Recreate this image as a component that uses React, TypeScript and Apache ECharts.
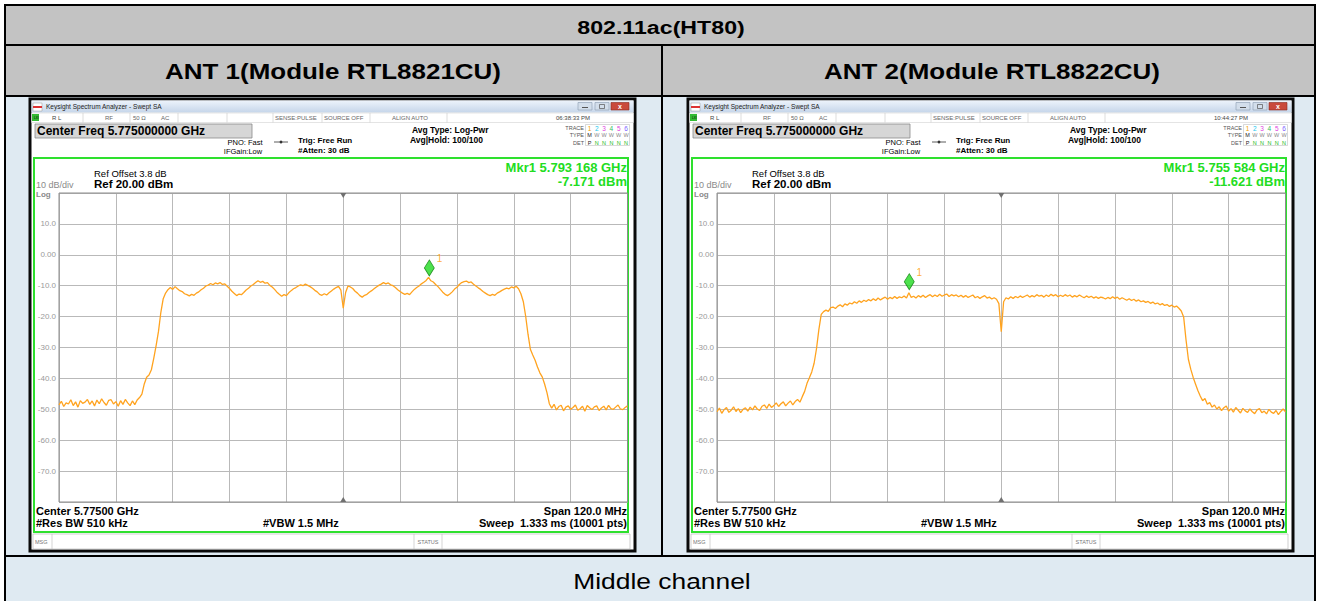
import React, { useEffect, useRef } from "react";
import * as echarts from "echarts";

// ---------- data ----------
const TABLE_TITLE = "802.11ac(HT80)";
const PANEL_TITLES = ["ANT 1(Module RTL8821CU)", "ANT 2(Module RTL8822CU)"];
const FOOTER = "Middle channel";

const CENTER_FREQ_TEXT = "Center Freq 5.775000000 GHz";
const CLOCKS = ["06:38:33 PM", "10:44:27 PM"];
const MARKER_FREQ_TEXT = ["Mkr1 5.793 168 GHz", "Mkr1 5.755 584 GHz"];
const MARKER_LEVEL_TEXT = ["-7.171 dBm", "-11.621 dBm"];
// marker position, MHz from centre (5.775 GHz) and dBm
const MARKER_MHZ = [18.168, -19.416];
const MARKER_DBM = [-7.171, -11.621];

// sweep: -60 MHz .. +60 MHz around 5.775 GHz, one reading every 0.5 MHz
const X_MIN = -60;
const X_MAX = 60;
const X_STEP = 12;
const SWEEP_STEP_MHZ = 0.5;
const Y_MIN = -80;
const Y_MAX = 20;
const Y_STEP = 10;
const Y_TICK_VALUES = [10, 0, -10, -20, -30, -40, -50, -60, -70];
const Y_TICK_LABELS = ["10.0", "0.00", "-10.0", "-20.0", "-30.0", "-40.0", "-50.0", "-60.0", "-70.0"];

const ANT1_DBM = [
  -48.6, -47.4, -49.1, -47.9, -48.3, -46.9, -48.8, -47.6, -49.3, -47.2,
  -48.1, -47.7, -46.8, -48.4, -47.3, -48.9, -47.0, -48.2, -46.6, -47.8,
  -48.7, -47.1, -46.9, -48.3, -47.5, -49.0, -47.2, -48.4, -46.8, -47.9,
  -48.8, -47.3, -48.5, -47.0, -46.2,
  -45.1, -41.8, -39.6, -38.9, -37.2, -33.5, -29.4, -24.8, -18.6, -14.2, -12.4, -11.3, -10.6,
  -11.2, -10.3, -11.0, -11.6, -11.9, -12.6, -12.9, -13.3, -12.8, -13.1,
  -12.4, -12.0, -11.3, -10.8, -10.1, -9.8, -9.3, -9.7, -9.1, -9.4,
  -9.0, -9.6, -9.4, -10.2, -10.9, -11.8, -12.5, -13.2, -12.7, -12.9,
  -12.2, -11.4, -10.8, -10.1, -9.6, -9.0, -8.4, -8.9, -8.6, -9.2,
  -9.0, -9.9, -10.4, -11.2, -12.1, -12.8, -13.4, -12.9, -13.2, -12.3,
  -11.6, -11.0, -10.6, -10.1, -9.7, -10.0, -9.5, -9.9, -10.3, -10.8,
  -11.5, -12.0, -12.8, -13.1, -12.6, -13.0, -12.3, -11.7, -11.1, -10.6,
  -10.2, -11.4,
  -17.3, -12.2, -10.1, -10.4, -10.9, -11.8, -12.4, -13.2, -13.7, -13.1,
  -12.8, -12.1, -11.6, -11.0, -10.4, -9.9, -9.5, -9.0, -9.4, -9.1,
  -9.7, -10.0, -10.6, -11.3, -11.9, -12.4, -12.8, -12.5, -12.9, -12.0,
  -11.2, -10.6, -10.1, -9.4, -8.9, -8.3, -7.3, -8.4, -8.8, -9.6,
  -10.3, -11.2, -12.1, -12.8, -13.2, -12.7, -12.0, -11.1, -10.5, -9.6,
  -9.0, -8.7, -8.5, -9.0, -8.8, -9.5, -10.1, -10.7, -11.2, -11.9,
  -12.4, -12.9, -13.2, -12.8, -13.1, -12.4, -12.0, -11.5, -11.1, -10.8,
  -11.0, -10.4, -10.7, -10.2, -11.0, -12.6, -15.1, -19.8, -25.7, -30.6,
  -32.4, -34.1, -36.3, -38.2, -39.5, -41.8, -44.6, -48.2,
  -49.6, -48.4, -50.2, -49.1, -48.7, -50.5, -49.3, -48.9, -50.0, -49.4,
  -48.6, -50.3, -49.8, -49.0, -50.6, -48.8, -49.5, -50.1, -49.2, -48.9,
  -50.4, -49.6, -49.0, -50.2, -48.7, -49.8, -50.0, -49.3, -48.6, -49.9,
  -50.1, -49.4, -48.9,
];

const ANT2_DBM = [
  -50.8, -49.6, -51.3, -50.1, -49.4, -51.0, -50.3, -49.2, -50.7, -49.8,
  -51.1, -50.0, -49.5, -50.6, -49.3, -50.2, -48.9, -49.9, -50.4, -49.0,
  -48.6, -49.7, -48.3, -49.4, -48.8, -47.9, -49.1, -48.2, -47.6, -48.9,
  -48.0, -47.3, -48.6, -47.5, -46.8, -47.7, -45.9,
  -44.2, -41.6, -39.8, -37.9, -35.1, -30.4, -24.2, -19.3,
  -18.4, -17.9, -18.3, -17.1, -16.9, -17.4, -16.6, -16.2, -16.8, -15.9,
  -16.3, -15.6, -15.9, -15.2, -15.7, -14.9, -15.4, -14.7, -15.1, -14.5,
  -14.9, -14.2, -14.8, -14.0, -14.6, -14.1, -13.7, -14.4, -13.8, -14.2,
  -13.5, -14.1, -13.6, -13.9, -13.3, -14.0, -12.3, -13.8, -13.4, -14.0,
  -13.2, -13.7, -13.1, -13.8, -13.3, -12.9, -13.6, -13.0, -13.5, -12.8,
  -13.4, -13.0, -12.7, -13.5, -12.9, -13.3, -13.0, -13.6, -13.1, -13.7,
  -13.2, -13.8, -13.4, -13.0, -13.9, -13.5, -14.1, -13.6, -13.2, -14.0,
  -13.7, -14.3, -13.9, -14.4, -15.8,
  -24.9, -15.2, -13.9, -14.3, -13.6, -14.1, -13.5, -13.9, -13.3, -13.8,
  -13.4, -13.0, -13.7, -13.2, -13.6, -12.9, -13.4, -13.1, -13.7, -13.0,
  -13.5, -12.8, -13.3, -12.9, -13.6, -13.1, -13.5, -12.9, -13.4, -13.0,
  -13.7, -13.2, -13.6, -13.0, -13.5, -13.9, -13.3, -13.8, -13.4, -14.0,
  -13.6, -14.1, -13.7, -13.9, -14.3, -13.8, -14.2, -13.6, -14.1, -13.7,
  -14.4, -13.9, -14.3, -14.7, -14.2, -14.8, -14.4, -15.0, -14.6, -15.2,
  -14.9, -15.4, -15.1, -15.7, -15.3, -15.9, -15.6, -16.2, -15.8, -16.4,
  -16.1, -16.7, -16.3, -16.9, -16.6, -17.3, -18.2, -20.1, -27.5, -33.8,
  -37.0, -39.6, -41.8, -43.9, -45.7, -47.2, -46.5, -48.4, -47.8, -49.3,
  -48.6, -49.9, -49.2, -50.4, -49.5, -48.9, -50.6, -49.8, -50.9, -49.4,
  -50.3, -51.2, -49.7, -50.5, -51.0, -49.9, -50.8, -51.4, -50.2, -49.8,
  -51.1, -50.6, -51.5, -50.0, -50.9, -51.3, -50.4, -51.7, -50.7, -49.9,
  -50.8,
];

const TRACES = [ANT1_DBM, ANT2_DBM];

// ---------- layout / style ----------
const FONT = "'Liberation Sans', Arial, Helvetica, sans-serif";
const SCREEN_DX = 658;
const PLOT = { left: 59, top: 193, width: 568.5, height: 309 };
const TRACE_COLOR = "#ffa31f";
const MKR_GREEN = "#22dd22";
const DIGIT_COLORS = ["#f5a000", "#18c8f0", "#e040e0", "#30c060", "#e040e0", "#8060ff"];

function buildTable(): any[] {
  const out: any[] = [];
  const blk = "#000";
  out.push({ type: "rect", silent: true, z: 0, shape: { x: 4, y: 5, width: 1312, height: 600 }, style: { fill: "#dfeaf2" } });
  out.push({ type: "rect", silent: true, z: 0, shape: { x: 4, y: 5, width: 1312, height: 91 }, style: { fill: "#c3c3c3" } });
  const ln = (x1: number, y1: number, x2: number, y2: number) =>
    out.push({ type: "line", silent: true, z: 1, shape: { x1, y1, x2, y2 }, style: { stroke: blk, lineWidth: 2 } });
  ln(5, 5, 5, 605);
  ln(1315, 5, 1315, 605);
  ln(4, 5, 1316, 5);
  ln(4, 45, 1316, 45);
  ln(4, 96, 1316, 96);
  ln(4, 556, 1316, 556);
  ln(662, 45, 662, 556);
  const txt = (x: number, y: number, t: string, size: number, bold: boolean, sx: number) =>
    out.push({
      type: "text", silent: true, z: 2, x, y, scaleX: sx,
      style: { text: t, fill: "#000", fontSize: size, fontWeight: bold ? "bold" : "normal", fontFamily: FONT, align: "center", verticalAlign: "middle" },
    });
  txt(661, 27, TABLE_TITLE, 19, true, 1.22);
  txt(333, 71, PANEL_TITLES[0], 22, true, 1.18);
  txt(992, 71, PANEL_TITLES[1], 22, true, 1.18);
  txt(662, 581, FOOTER, 22, false, 1.2);
  return out;
}

function buildScreen(k: number): any[] {
  const dx = k * SCREEN_DX;
  const out: any[] = [];
  const rect = (x: number, y: number, w: number, h: number, style: any, z = 1) =>
    out.push({ type: "rect", silent: true, z, shape: { x: x + dx, y, width: w, height: h }, style });
  const line = (x1: number, y1: number, x2: number, y2: number, stroke: string, lw = 1, z = 1) =>
    out.push({ type: "line", silent: true, z, shape: { x1: x1 + dx, y1, x2: x2 + dx, y2 }, style: { stroke, lineWidth: lw } });
  const text = (x: number, y: number, t: string, o: any = {}) =>
    out.push({
      type: "text", silent: true, z: o.z ?? 2, x: x + dx, y,
      style: {
        text: t, fill: o.color ?? "#000", fontSize: o.size ?? 8, fontWeight: o.bold ? "bold" : "normal",
        fontFamily: FONT, align: o.align ?? "left", verticalAlign: "middle",
      },
    });

  // window frame
  rect(30, 99, 605, 452, { fill: "#ffffff", stroke: "#0a0a0a", lineWidth: 3 }, 0);
  // title bar
  rect(31.5, 100.5, 602, 12, {
    fill: new echarts.graphic.LinearGradient(0, 0, 0, 1, [
      { offset: 0, color: "#edf3fb" },
      { offset: 1, color: "#c6d6ea" },
    ]),
  });
  rect(33, 103, 9, 8, { fill: "#ffffff", stroke: "#999", lineWidth: 0.5 });
  rect(33, 106, 9, 2, { fill: "#d33" });
  text(46, 106.5, "Keysight Spectrum Analyzer - Swept SA", { size: 6.5, color: "#222" });
  rect(578, 102.5, 14, 7.5, { fill: "#d3deeb", stroke: "#8a9bb0", lineWidth: 0.6 });
  rect(595, 102.5, 14, 7.5, { fill: "#d3deeb", stroke: "#8a9bb0", lineWidth: 0.6 });
  rect(611, 102.5, 18, 7.5, { fill: "#c94a3c", stroke: "#8a2a20", lineWidth: 0.6 });
  line(582, 107.5, 588, 107.5, "#555", 1, 2);
  rect(599.5, 104.5, 5, 4, { fill: "none", stroke: "#555", lineWidth: 0.7 }, 2);
  text(620, 106.2, "x", { size: 7, color: "#fff", bold: true, align: "center" });

  // status row
  rect(31.5, 113, 602, 9.5, { fill: "#ffffff", stroke: "#c8c8c8", lineWidth: 0.5 });
  rect(32, 114, 7, 7, { fill: "#33bb33" });
  text(34, 117.5, "LXI", { size: 3, color: "#000" });
  [83, 130, 178, 227, 273, 322, 370, 447].forEach((x) => line(x, 113, x, 122.5, "#c8c8c8", 0.6));
  const sc = "#666";
  text(52, 117.8, "R L", { size: 6, color: "#444" });
  text(105, 117.8, "RF", { size: 6, color: sc });
  text(133, 117.8, "50 \u03a9", { size: 6, color: sc });
  text(161, 117.8, "AC", { size: 6, color: sc });
  text(275, 117.8, "SENSE:PULSE", { size: 6, color: sc });
  text(324, 117.8, "SOURCE OFF", { size: 6, color: sc });
  text(392, 117.8, "ALIGN AUTO", { size: 6, color: sc });
  text(590, 117.8, CLOCKS[k], { size: 6, color: "#444", align: "right" });

  // header block
  rect(35, 124, 217, 14, { fill: "#d6d6d6", stroke: "#8a8a8a", lineWidth: 0.8 });
  text(37, 131.2, CENTER_FREQ_TEXT, { size: 12, bold: true });
  text(245, 142, "PNO: Fast", { size: 7.5, align: "center" });
  text(243, 151, "IFGain:Low", { size: 7.5, align: "center" });
  line(274, 142, 288, 142, "#333", 0.8);
  out.push({ type: "circle", silent: true, z: 2, shape: { cx: 281 + dx, cy: 142, r: 1.4 }, style: { fill: "#333" } });
  text(298, 140.5, "Trig: Free Run", { size: 8, bold: true });
  text(298, 150, "#Atten: 30 dB", { size: 8, bold: true });
  text(412, 129.5, "Avg Type: Log-Pwr", { size: 8.5, bold: true });
  text(410, 139.5, "Avg|Hold: 100/100", { size: 8.5, bold: true });

  rect(585.5, 124.5, 44, 21, { fill: "#ffffff", stroke: "#c0c0c0", lineWidth: 0.6 });
  text(584, 128, "TRACE", { size: 5.5, color: "#555", align: "right" });
  text(584, 135.3, "TYPE", { size: 5.5, color: "#555", align: "right" });
  text(584, 142.5, "DET", { size: 5.5, color: "#555", align: "right" });
  DIGIT_COLORS.forEach((c, j) => {
    text(589.5 + j * 7.3, 128, String(j + 1), { size: 6.5, color: c, align: "center" });
    text(589.5 + j * 7.3, 135.3, j === 0 ? "M" : "W", { size: 5.5, color: j === 0 ? "#222" : "#888", align: "center" });
    text(589.5 + j * 7.3, 142.5, j === 0 ? "P" : "N", { size: 5.5, color: j === 0 ? "#222" : "#22bb22", align: "center" });
  });

  // green measurement panel
  rect(34, 158, 594, 374, { fill: "#ffffff", stroke: "#2ee02e", lineWidth: 2 });
  text(94, 173, "Ref Offset 3.8 dB", { size: 9.5 });
  text(94, 184, "Ref 20.00 dBm", { size: 11.5, bold: true });
  text(36, 184.5, "10 dB/div", { size: 9, color: "#8a8a8a" });
  text(36, 194, "Log", { size: 8, color: "#8a8a8a", bold: true });
  text(627, 167.5, MARKER_FREQ_TEXT[k], { size: 13, bold: true, color: MKR_GREEN, align: "right" });
  text(627, 181, MARKER_LEVEL_TEXT[k], { size: 13, bold: true, color: MKR_GREEN, align: "right" });

  // plot frame + centre triangles
  rect(PLOT.left, PLOT.top, PLOT.width, PLOT.height, { fill: "none", stroke: "#8c8c8c", lineWidth: 1 }, 5);
  const cx = PLOT.left + PLOT.width / 2 + dx;
  out.push({ type: "polygon", silent: true, z: 7, shape: { points: [[cx - 3, PLOT.top], [cx + 3, PLOT.top], [cx, PLOT.top + 5]] }, style: { fill: "#707070" } });
  const yb = PLOT.top + PLOT.height;
  out.push({ type: "polygon", silent: true, z: 7, shape: { points: [[cx - 3, yb], [cx + 3, yb], [cx, yb - 5]] }, style: { fill: "#707070" } });

  // bottom annotations
  text(36, 510.5, "Center 5.77500 GHz", { size: 11, bold: true });
  text(36, 523, "#Res BW 510 kHz", { size: 11, bold: true });
  text(263, 523, "#VBW 1.5 MHz", { size: 11, bold: true });
  text(627, 510.5, "Span 120.0 MHz", { size: 11, bold: true, align: "right" });
  text(627, 523, "Sweep  1.333 ms (10001 pts)", { size: 11, bold: true, align: "right" });

  // status bar
  rect(33, 534, 597, 15, { fill: "#ffffff", stroke: "#b0b0b0", lineWidth: 0.6 });
  [52, 414, 442].forEach((x) => line(x, 534, x, 549, "#b8b8b8", 0.6));
  text(35, 541.5, "MSG", { size: 5.5, color: "#777" });
  text(428, 541.5, "STATUS", { size: 5.5, color: "#777", align: "center" });
  return out;
}

export default function App() {
  const ref = useRef<HTMLDivElement>(null);
  useEffect(() => {
    if (!ref.current) return;
    const chart = echarts.init(ref.current, undefined, { renderer: "svg" });
    const yFormatter = (v: number) => {
      const idx = Y_TICK_VALUES.indexOf(Math.round(v));
      return idx >= 0 ? Y_TICK_LABELS[idx] : "";
    };
    const splitLine = { show: true, lineStyle: { color: "#b9b9b9", width: 1 } };
    const option: any = {
      animation: false,
      backgroundColor: "#ffffff",
      grid: [0, 1].map((k) => ({
        left: PLOT.left + k * SCREEN_DX, top: PLOT.top, width: PLOT.width, height: PLOT.height, containLabel: false,
      })),
      xAxis: [0, 1].map((k) => ({
        type: "value", gridIndex: k, min: X_MIN, max: X_MAX, interval: X_STEP, z: 4,
        axisLabel: { show: false }, axisTick: { show: false }, axisLine: { show: false }, splitLine,
      })),
      yAxis: [0, 1].map((k) => ({
        type: "value", gridIndex: k, min: Y_MIN, max: Y_MAX, interval: Y_STEP, z: 4,
        axisLabel: { formatter: yFormatter, fontSize: 8, color: "#9a9a9a", margin: 3, fontFamily: FONT },
        axisTick: { show: false }, axisLine: { show: false }, splitLine,
      })),
      series: [
        ...TRACES.map((vals, k) => ({
          type: "line", xAxisIndex: k, yAxisIndex: k, z: 6,
          data: vals.map((v, i) => [X_MIN + i * SWEEP_STEP_MHZ, v]),
          showSymbol: false, symbol: "none",
          lineStyle: { color: TRACE_COLOR, width: 1.3 },
        })),
        ...[0, 1].map((k) => ({
          type: "scatter", xAxisIndex: k, yAxisIndex: k, z: 8,
          data: [[MARKER_MHZ[k], MARKER_DBM[k]]],
          symbol: "diamond", symbolSize: [10, 16], symbolOffset: [0, -9],
          itemStyle: { color: "#21d921", borderColor: "#0b7d0b", borderWidth: 0.8 },
          label: { show: true, formatter: "1", position: "right", offset: [-3, -9], color: "#ff9a00", fontSize: 10, fontFamily: FONT },
        })),
      ],
      graphic: { elements: [...buildTable(), ...buildScreen(0), ...buildScreen(1)] },
    };
    chart.setOption(option);
    return () => chart.dispose();
  }, []);
  return <div ref={ref} style={{ position: "fixed", left: 0, top: 0, width: 1320, height: 601 }} />;
}
